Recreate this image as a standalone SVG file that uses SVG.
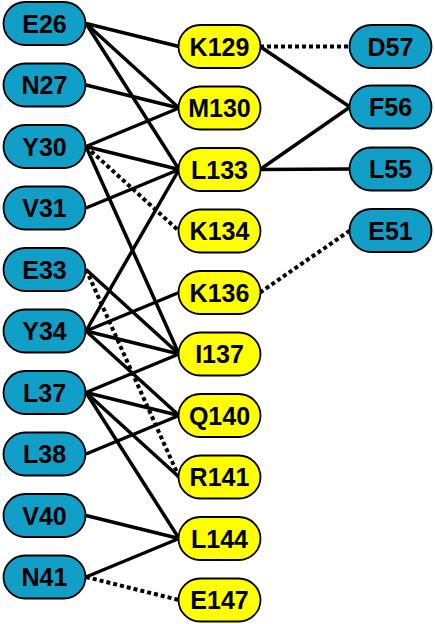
<svg xmlns="http://www.w3.org/2000/svg" width="435" height="624" viewBox="0 0 435 624">
<style>
.e{stroke:#000;stroke-width:3.5;fill:none}
.d{stroke:#000;stroke-width:4;fill:none;stroke-dasharray:4 3}
.b rect{fill:#129FC7;stroke:#000;stroke-width:1.8}
.y rect{fill:#FFFF00;stroke:#000;stroke-width:1.8}
text{font-family:"Liberation Sans",Arial,sans-serif;font-weight:bold;font-size:25px;text-anchor:middle;fill:#000}
</style>
<rect width="435" height="624" fill="#fff"/>
<g id="connectors">
<line class="e" x1="86" y1="23.5" x2="179" y2="46.5"/>
<line class="e" x1="86" y1="23.5" x2="179" y2="108"/>
<line class="e" x1="86" y1="23.5" x2="179" y2="169.5"/>
<line class="e" x1="86" y1="85" x2="179" y2="108"/>
<line class="e" x1="86" y1="146.5" x2="179" y2="108"/>
<line class="e" x1="86" y1="146.5" x2="179" y2="169.5"/>
<line class="e" x1="86" y1="146.5" x2="179" y2="354"/>
<line class="d" x1="86" y1="146.5" x2="179" y2="231"/>
<line class="e" x1="86" y1="208" x2="179" y2="169.5"/>
<line class="e" x1="86" y1="269.5" x2="179" y2="354"/>
<line class="d" x1="86" y1="269.5" x2="179" y2="477"/>
<line class="e" x1="86" y1="331" x2="179" y2="169.5"/>
<line class="e" x1="86" y1="331" x2="179" y2="292.5"/>
<line class="e" x1="86" y1="331" x2="179" y2="354"/>
<line class="e" x1="86" y1="331" x2="179" y2="415.5"/>
<line class="e" x1="86" y1="392.5" x2="179" y2="354"/>
<line class="e" x1="86" y1="392.5" x2="179" y2="415.5"/>
<line class="e" x1="86" y1="392.5" x2="179" y2="477"/>
<line class="e" x1="86" y1="392.5" x2="179" y2="538.5"/>
<line class="e" x1="86" y1="454" x2="179" y2="415.5"/>
<line class="e" x1="86" y1="515.5" x2="179" y2="538.5"/>
<line class="e" x1="86" y1="577" x2="179" y2="538.5"/>
<line class="d" x1="86" y1="577" x2="179" y2="600"/>
<line class="d" x1="260" y1="46.5" x2="350" y2="46.5"/>
<line class="e" x1="260" y1="46.5" x2="350" y2="107"/>
<line class="e" x1="260" y1="169.5" x2="350" y2="107"/>
<line class="e" x1="260" y1="169.5" x2="350" y2="169"/>
<line class="d" x1="260" y1="292.5" x2="350" y2="230.5"/>
</g>
<g id="E26" class="b"><rect x="3.5" y="2" width="82" height="43" rx="21.5"/><text x="44.5" y="32.5">E26</text></g>
<g id="N27" class="b"><rect x="3.5" y="63.5" width="82" height="43" rx="21.5"/><text x="44.5" y="94">N27</text></g>
<g id="Y30" class="b"><rect x="3.5" y="125" width="82" height="43" rx="21.5"/><text x="44.5" y="155.5">Y30</text></g>
<g id="V31" class="b"><rect x="3.5" y="186.5" width="82" height="43" rx="21.5"/><text x="44.5" y="217">V31</text></g>
<g id="E33" class="b"><rect x="3.5" y="248" width="82" height="43" rx="21.5"/><text x="44.5" y="278.5">E33</text></g>
<g id="Y34" class="b"><rect x="3.5" y="309.5" width="82" height="43" rx="21.5"/><text x="44.5" y="340">Y34</text></g>
<g id="L37" class="b"><rect x="3.5" y="371" width="82" height="43" rx="21.5"/><text x="44.5" y="401.5">L37</text></g>
<g id="L38" class="b"><rect x="3.5" y="432.5" width="82" height="43" rx="21.5"/><text x="44.5" y="463">L38</text></g>
<g id="V40" class="b"><rect x="3.5" y="494" width="82" height="43" rx="21.5"/><text x="44.5" y="524.5">V40</text></g>
<g id="N41" class="b"><rect x="3.5" y="555.5" width="82" height="43" rx="21.5"/><text x="44.5" y="586">N41</text></g>
<g id="K129" class="y"><rect x="178.5" y="25" width="82" height="43" rx="21.5"/><text x="219.5" y="55.5">K129</text></g>
<g id="M130" class="y"><rect x="178.5" y="86.5" width="82" height="43" rx="21.5"/><text x="219.5" y="117">M130</text></g>
<g id="L133" class="y"><rect x="178.5" y="148" width="82" height="43" rx="21.5"/><text x="219.5" y="178.5">L133</text></g>
<g id="K134" class="y"><rect x="178.5" y="209.5" width="82" height="43" rx="21.5"/><text x="219.5" y="240">K134</text></g>
<g id="K136" class="y"><rect x="178.5" y="271" width="82" height="43" rx="21.5"/><text x="219.5" y="301.5">K136</text></g>
<g id="I137" class="y"><rect x="178.5" y="332.5" width="82" height="43" rx="21.5"/><text x="219.5" y="363">I137</text></g>
<g id="Q140" class="y"><rect x="178.5" y="394" width="82" height="43" rx="21.5"/><text x="219.5" y="424.5">Q140</text></g>
<g id="R141" class="y"><rect x="178.5" y="455.5" width="82" height="43" rx="21.5"/><text x="219.5" y="486">R141</text></g>
<g id="L144" class="y"><rect x="178.5" y="517" width="82" height="43" rx="21.5"/><text x="219.5" y="547.5">L144</text></g>
<g id="E147" class="y"><rect x="178.5" y="578.5" width="82" height="43" rx="21.5"/><text x="219.5" y="609">E147</text></g>
<g id="D57" class="b"><rect x="349.5" y="25" width="82" height="43" rx="21.5"/><text x="390.5" y="55.5">D57</text></g>
<g id="F56" class="b"><rect x="349.5" y="85.5" width="82" height="43" rx="21.5"/><text x="390.5" y="116">F56</text></g>
<g id="L55" class="b"><rect x="349.5" y="147.5" width="82" height="43" rx="21.5"/><text x="390.5" y="178">L55</text></g>
<g id="E51" class="b"><rect x="349.5" y="209" width="82" height="43" rx="21.5"/><text x="390.5" y="239.5">E51</text></g>
</svg>
